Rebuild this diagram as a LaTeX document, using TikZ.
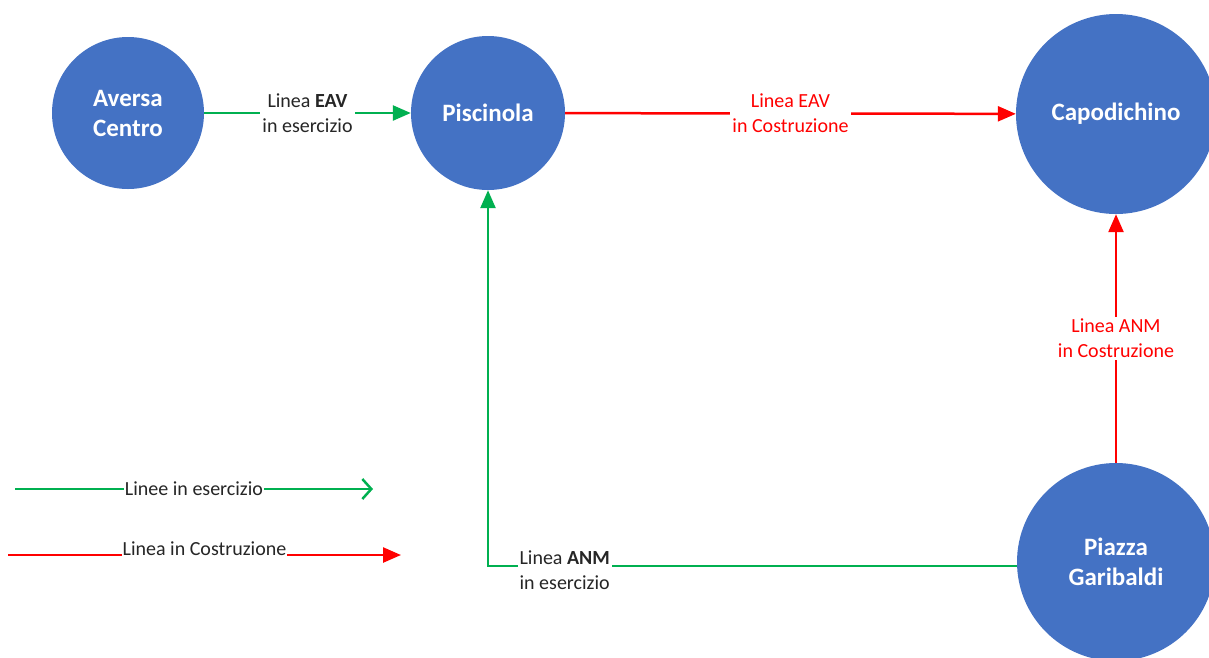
\documentclass[tikz,border=0pt]{standalone}
\usepackage{fontspec}
\setmainfont{Carlito}
\usetikzlibrary{arrows.meta}
\definecolor{stblue}{HTML}{4472C4}
\definecolor{lgreen}{HTML}{00B050}
\definecolor{lred}{HTML}{FF0000}
\tikzset{
  station/.style={circle, fill=stblue, inner sep=0pt, text=white, align=center,
    font=\fontsize{25}{30}\selectfont\bfseries},
  lbl/.style={fill=white, inner sep=2pt, align=center, text=black!85,
    font=\fontsize{20}{25}\selectfont},
  rlbl/.style={lbl, text=lred},
  greenline/.style={draw=lgreen, line width=2.5pt, -{Triangle[length=18pt,width=15pt]}},
  redline/.style={draw=lred, line width=2.5pt, -{Triangle[length=18pt,width=15pt]}},
}
\begin{document}
\begin{tikzpicture}[x=1pt,y=-1pt]
\useasboundingbox (0,0) rectangle (1209,657);
\node[station, minimum size=152pt] (aversa) at (128,113) {Aversa\\Centro};
\node[station, minimum size=154pt] (pisc) at (488,113) {Piscinola};
\node[station, minimum size=200pt] (capo) at (1116,114) {Capodichino};
\node[station, minimum size=198pt] (piazza) at (1116,562) {Piazza\\Garibaldi};

\draw[greenline] (aversa) -- node[lbl] {Linea \textbf{EAV}\\in esercizio} (pisc);
\draw[redline] (pisc) -- node[rlbl] {Linea EAV\\in Costruzione} (capo);
\draw[redline] (piazza) -- node[rlbl] {Linea ANM\\in Costruzione} (capo);

\coordinate (corner) at (488,566);
\draw[greenline] (piazza.west |- corner) -- node[lbl, pos=0.855, yshift=-4pt] {Linea \textbf{ANM}\\in esercizio} (corner) -- (pisc.south);

% legend
\coordinate (g1) at (15,489);
\coordinate (g2) at (373,489);
\coordinate (r1) at (8,555);
\coordinate (r2) at (401,555);
\draw[draw=lgreen, line width=2.5pt, -{Straight Barb[length=9pt,width=20pt]}] (g1) -- node[lbl, pos=0.5, inner sep=1pt] {Linee in esercizio} (g2);
\draw[redline] (r1) -- node[lbl, pos=0.5, yshift=6pt, inner sep=1pt] {Linea in Costruzione} (r2);
\end{tikzpicture}
\end{document}
